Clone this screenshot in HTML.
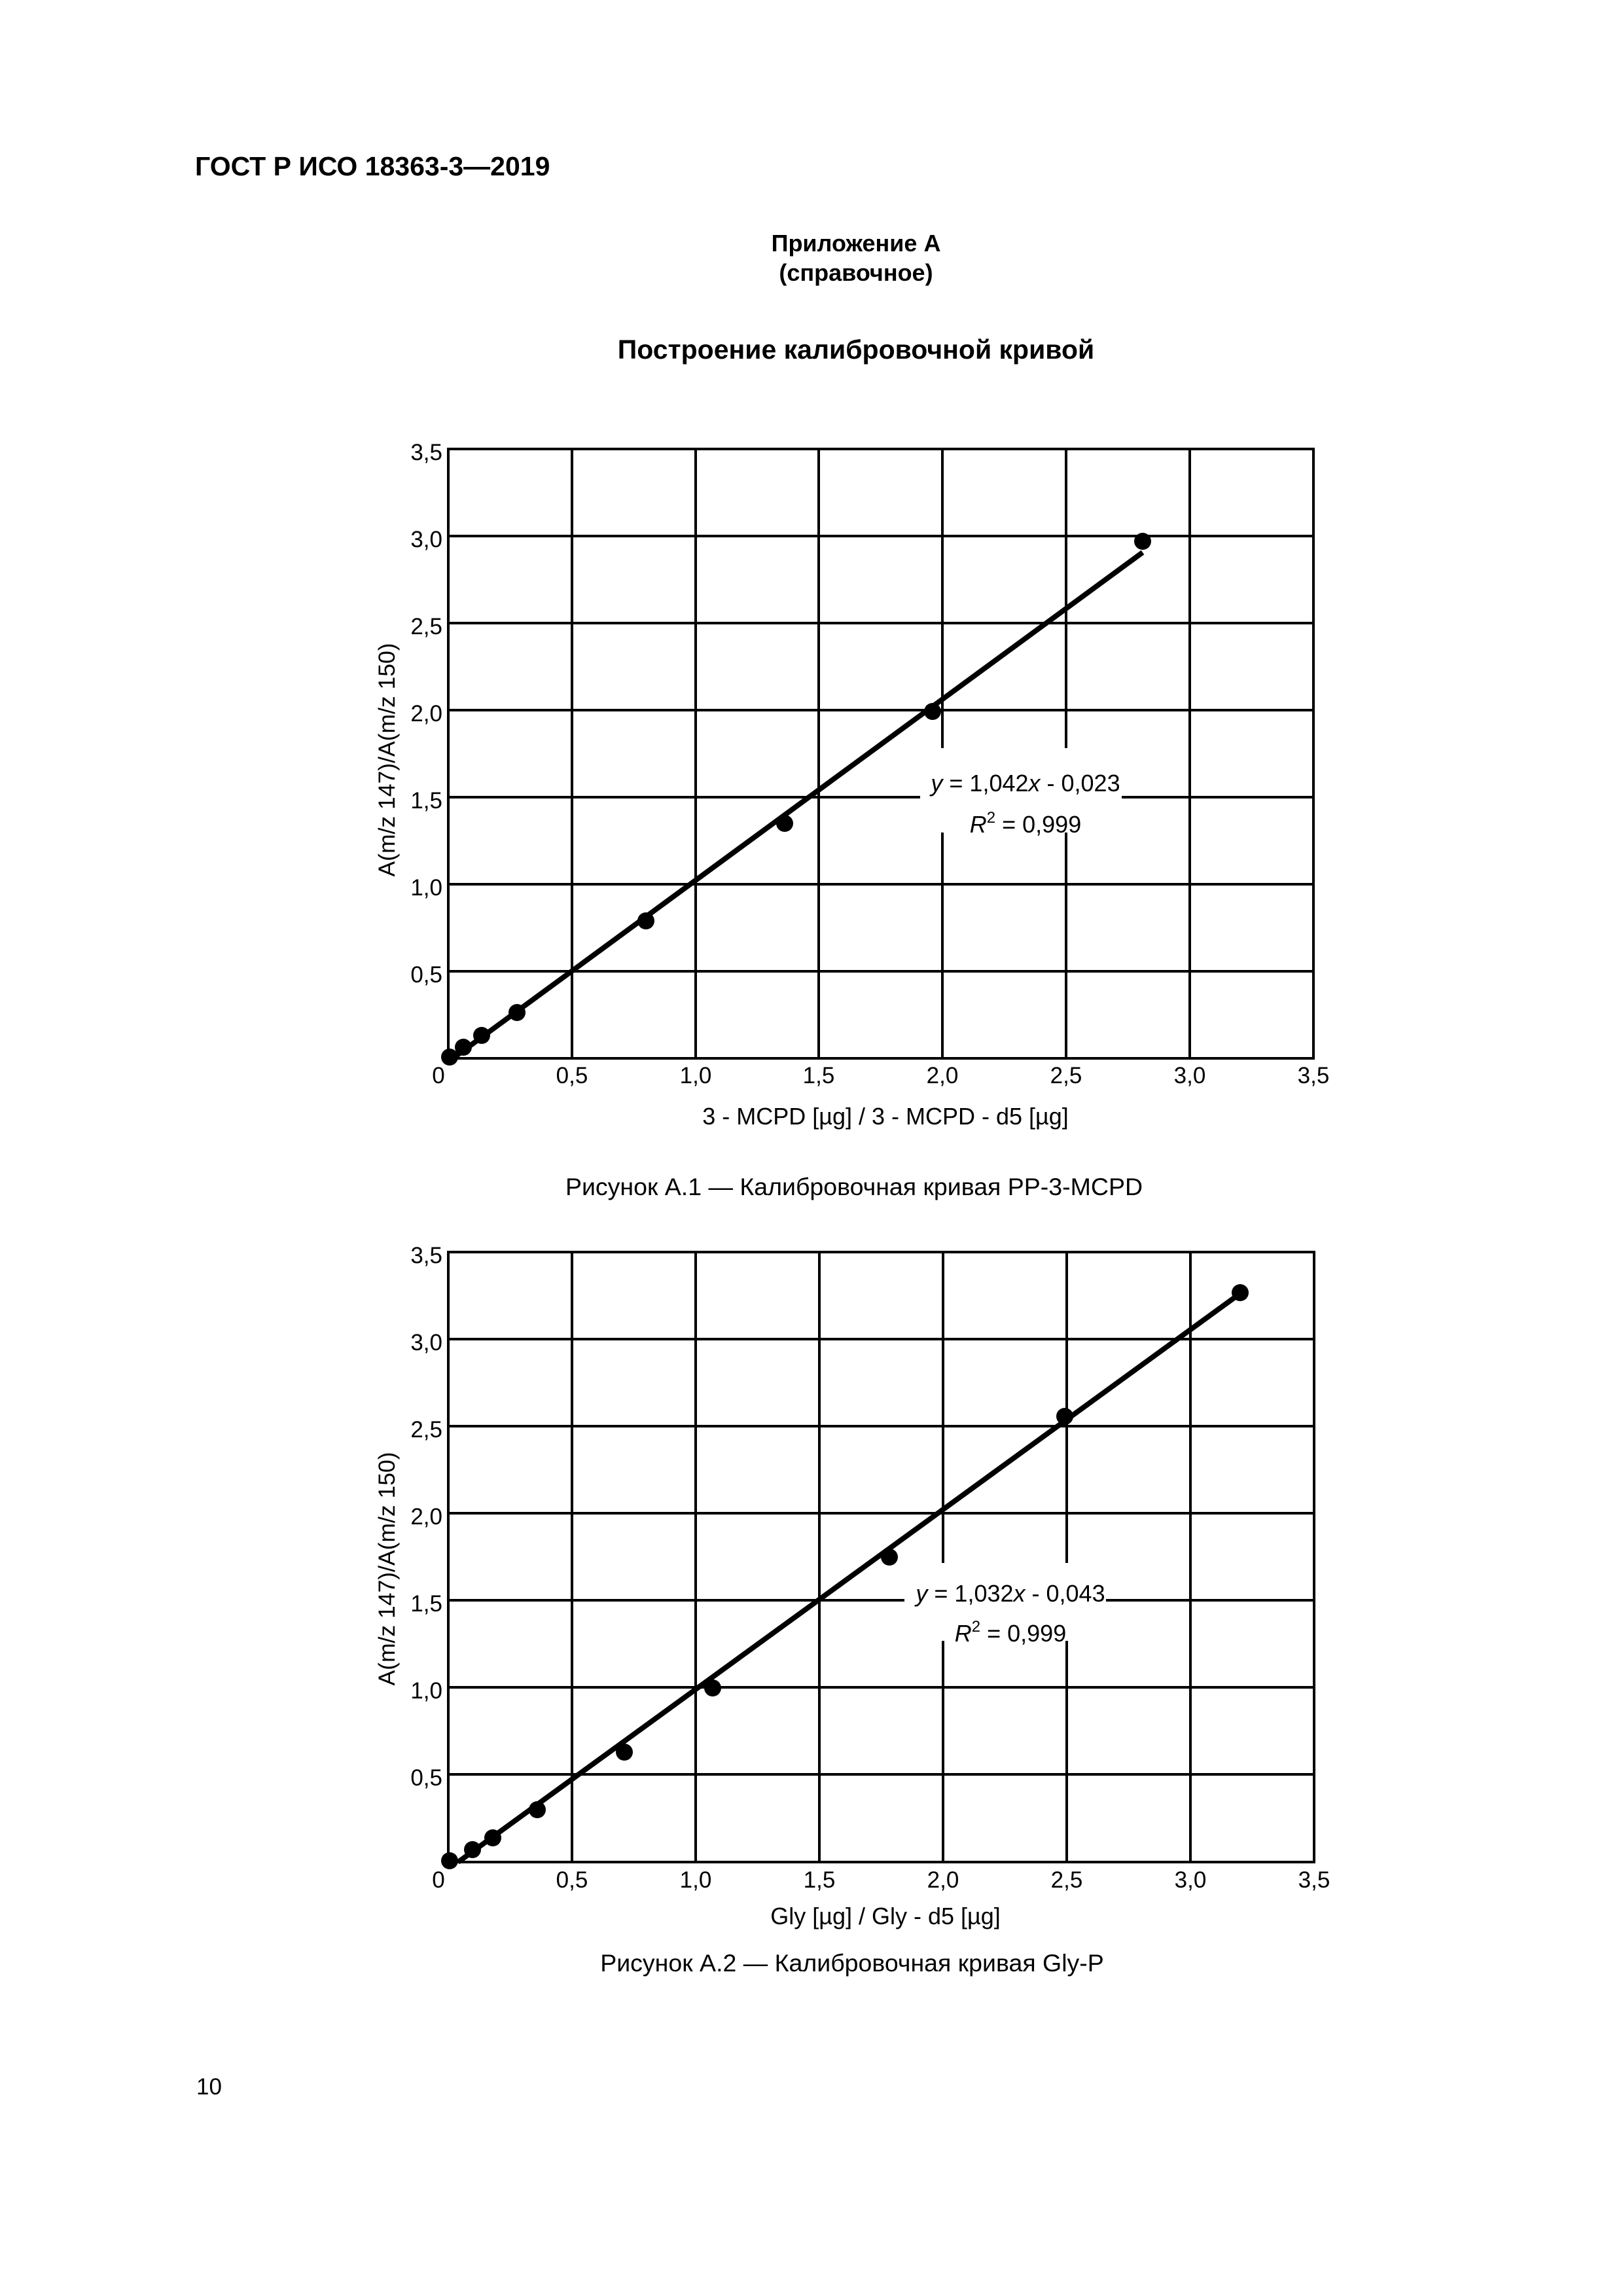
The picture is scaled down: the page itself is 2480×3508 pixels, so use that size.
<!DOCTYPE html>
<html><head><meta charset="utf-8"><style>
html,body{margin:0;padding:0;background:#fff;}
svg{display:block;}
text{font-family:"Liberation Sans",Arial,sans-serif;fill:#000;}
</style></head><body>
<svg width="2480" height="3508" viewBox="0 0 2480 3508" xmlns="http://www.w3.org/2000/svg">
<rect width="2480" height="3508" fill="#fff"/>
<text x="298" y="268" font-size="41" font-weight="bold">ГОСТ Р ИСО 18363-3—2019</text>
<text x="1308" y="384" font-size="36" font-weight="bold" text-anchor="middle">Приложение А</text>
<text x="1308" y="429" font-size="36" font-weight="bold" text-anchor="middle">(справочное)</text>
<text x="1308" y="548" font-size="41" font-weight="bold" text-anchor="middle">Построение калибровочной кривой</text>

<!-- Chart 1 -->
<g stroke="#000" stroke-width="4" fill="none">
<rect x="685" y="686" width="1322" height="931"/>
<line x1="874" y1="686" x2="874" y2="1617"/><line x1="1063" y1="686" x2="1063" y2="1617"/>
<line x1="1251" y1="686" x2="1251" y2="1617"/><line x1="1440" y1="686" x2="1440" y2="1617"/>
<line x1="1629" y1="686" x2="1629" y2="1617"/><line x1="1818" y1="686" x2="1818" y2="1617"/>
<line x1="685" y1="819" x2="2007" y2="819"/><line x1="685" y1="952" x2="2007" y2="952"/>
<line x1="685" y1="1085" x2="2007" y2="1085"/><line x1="685" y1="1218" x2="2007" y2="1218"/>
<line x1="685" y1="1351" x2="2007" y2="1351"/><line x1="685" y1="1484" x2="2007" y2="1484"/>
</g>
<rect x="1406" y="1143" width="308" height="129" fill="#fff"/>
<line x1="692" y1="1617" x2="1746" y2="844" stroke="#000" stroke-width="8"/>
<g fill="#000">
<circle cx="687" cy="1615" r="13"/><circle cx="708" cy="1600" r="13"/><circle cx="736" cy="1582" r="13"/>
<circle cx="790" cy="1547" r="13"/><circle cx="987" cy="1407" r="13"/><circle cx="1199" cy="1258" r="13"/>
<circle cx="1425" cy="1087" r="13"/><circle cx="1746" cy="827" r="13"/>
</g>
<text x="1567" y="1209" font-size="36" text-anchor="middle"><tspan font-style="italic">y</tspan> = 1,042<tspan font-style="italic">x</tspan> - 0,023</text>
<text x="1567" y="1272" font-size="36" text-anchor="middle"><tspan font-style="italic">R</tspan><tspan font-size="24" dy="-15">2</tspan><tspan dy="15"> = 0,999</tspan></text>
<g font-size="35" text-anchor="end">
<text x="676" y="703">3,5</text><text x="676" y="836">3,0</text><text x="676" y="969">2,5</text>
<text x="676" y="1102">2,0</text><text x="676" y="1235">1,5</text><text x="676" y="1368">1,0</text>
<text x="676" y="1501">0,5</text>
</g>
<g font-size="35" text-anchor="middle">
<text x="670" y="1655">0</text><text x="874" y="1655">0,5</text><text x="1063" y="1655">1,0</text>
<text x="1251" y="1655">1,5</text><text x="1440" y="1655">2,0</text><text x="1629" y="1655">2,5</text>
<text x="1818" y="1655">3,0</text><text x="2007" y="1655">3,5</text>
</g>
<text x="1353" y="1718" font-size="36" text-anchor="middle">3 - MCPD [µg] / 3 - MCPD - d5 [µg]</text>
<text transform="translate(603,1161) rotate(-90)" font-size="35.5" text-anchor="middle">A(m/z 147)/A(m/z 150)</text>
<text x="1305" y="1826" font-size="37.5" text-anchor="middle">Рисунок А.1 — Калибровочная кривая PP-3-MCPD</text>

<!-- Chart 2 -->
<g stroke="#000" stroke-width="4" fill="none">
<rect x="685" y="1913" width="1323" height="932"/>
<line x1="874" y1="1913" x2="874" y2="2845"/><line x1="1063" y1="1913" x2="1063" y2="2845"/>
<line x1="1252" y1="1913" x2="1252" y2="2845"/><line x1="1441" y1="1913" x2="1441" y2="2845"/>
<line x1="1630" y1="1913" x2="1630" y2="2845"/><line x1="1819" y1="1913" x2="1819" y2="2845"/>
<line x1="685" y1="2046" x2="2008" y2="2046"/><line x1="685" y1="2179" x2="2008" y2="2179"/>
<line x1="685" y1="2312" x2="2008" y2="2312"/><line x1="685" y1="2445" x2="2008" y2="2445"/>
<line x1="685" y1="2578" x2="2008" y2="2578"/><line x1="685" y1="2711" x2="2008" y2="2711"/>
</g>
<rect x="1382" y="2388" width="308" height="119" fill="#fff"/>
<line x1="700" y1="2845" x2="1894" y2="1977" stroke="#000" stroke-width="8"/>
<g fill="#000">
<circle cx="687" cy="2843" r="13"/><circle cx="722" cy="2826" r="13"/><circle cx="753" cy="2808" r="13"/>
<circle cx="821" cy="2765" r="13"/><circle cx="954" cy="2677" r="13"/><circle cx="1089" cy="2579" r="13"/>
<circle cx="1359" cy="2379" r="13"/><circle cx="1627" cy="2164" r="13"/><circle cx="1895" cy="1975" r="13"/>
</g>
<text x="1544" y="2447" font-size="36" text-anchor="middle"><tspan font-style="italic">y</tspan> = 1,032<tspan font-style="italic">x</tspan> - 0,043</text>
<text x="1544" y="2508" font-size="36" text-anchor="middle"><tspan font-style="italic">R</tspan><tspan font-size="24" dy="-15">2</tspan><tspan dy="15"> = 0,999</tspan></text>
<g font-size="35" text-anchor="end">
<text x="676" y="1930">3,5</text><text x="676" y="2063">3,0</text><text x="676" y="2196">2,5</text>
<text x="676" y="2329">2,0</text><text x="676" y="2462">1,5</text><text x="676" y="2595">1,0</text>
<text x="676" y="2728">0,5</text>
</g>
<g font-size="35" text-anchor="middle">
<text x="670" y="2884">0</text><text x="874" y="2884">0,5</text><text x="1063" y="2884">1,0</text>
<text x="1252" y="2884">1,5</text><text x="1441" y="2884">2,0</text><text x="1630" y="2884">2,5</text>
<text x="1819" y="2884">3,0</text><text x="2008" y="2884">3,5</text>
</g>
<text x="1353" y="2940" font-size="36" text-anchor="middle">Gly [µg] / Gly - d5 [µg]</text>
<text transform="translate(603,2397) rotate(-90)" font-size="35.5" text-anchor="middle">A(m/z 147)/A(m/z 150)</text>
<text x="1302" y="3012" font-size="37.5" text-anchor="middle">Рисунок А.2 — Калибровочная кривая Gly-P</text>

<text x="300" y="3200" font-size="35">10</text>
</svg>
</body></html>
